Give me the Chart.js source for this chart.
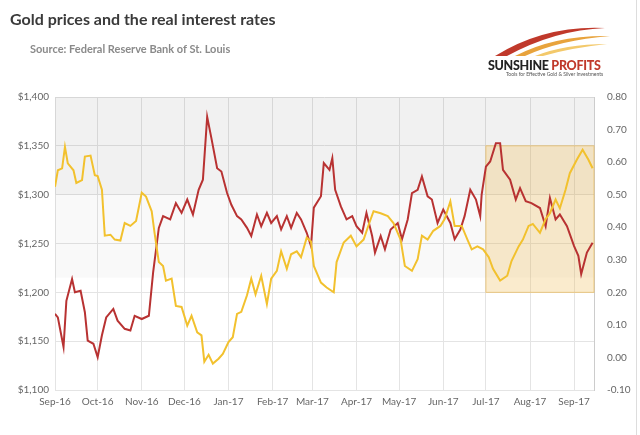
<!DOCTYPE html>
<html><head><meta charset="utf-8">
<script src="https://cdn.jsdelivr.net/npm/chart.js@4"></script>
<style>
body{margin:0;background:#fff;font-family:Lato,"Open Sans",sans-serif;}
#wrap{position:relative;width:640px;height:435px;}
#t{position:absolute;left:10px;top:9px;font-size:16px;font-weight:bold;color:#3a3a3a;}
#s{position:absolute;left:30px;top:42px;font-size:11px;font-weight:bold;color:#8a8a8a;}
#logo{position:absolute;left:488px;top:58px;font-size:12.5px;font-weight:900;color:#222;letter-spacing:-0.3px}
#logo span{color:#c0392b}
#tag{position:absolute;left:506px;top:71px;font-size:5px;color:#555}
#frame{position:absolute;right:3px;top:0;width:1px;height:435px;background:#ddd}
</style></head><body>
<div id="wrap"><canvas id="c" width="640" height="435"></canvas>
<div id="t">Gold prices and the real interest rates</div>
<div id="s">Source: Federal Reserve Bank of St. Louis</div>
<svg style="position:absolute;left:495px;top:20px" width="120" height="38"><path d="M0 36 Q50 5 110 8 Q60 10 12 36Z" fill="#c0392b"/><path d="M20 36 Q60 15 115 16 Q65 20 30 36Z" fill="#e8a33c"/><path d="M40 36 Q70 24 112 24 Q75 28 48 36Z" fill="#f3c96b"/></svg>
<div id="logo">SUNSHINE <span>PROFITS</span></div>
<div id="tag">Tools for Effective Gold &amp; Silver Investments</div>
<div id="frame"></div>
</div>
<script>
const monthDays=[0,30,61,91,122,153,181,212,242,273,303,334,365];
const monthLabels=["Sep-16","Oct-16","Nov-16","Dec-16","Jan-17","Feb-17","Mar-17","Apr-17","May-17","Jun-17","Jul-17","Aug-17","Sep-17"];
const goldDays=[0,2,5,7,9,13,15,19,21,25,28,30,33,35,39,42,46,49,53,57,61,64,68,70,73,76,78,82,85,89,93,96,100,103,105,108,111,115,118,122,125,128,131,135,138,141,145,149,152,156,159,163,166,170,173,177,180,182,187,191,196,198,203,208,212,217,221,224,229,234,238,243,246,251,255,258,262,266,271,274,278,281,286,290,293,297,301,305,308,313,318,321,326,329,333,336,341,345,348,352,355,359,362,367,371,375,378];
const goldPrice=[1308,1325,1327,1349,1332,1325,1312,1315,1339,1340,1320,1319,1305,1258,1259,1254,1253,1271,1268,1273,1302,1298,1283,1261,1231,1227,1212,1214,1186,1185,1166,1176,1159,1156,1129,1136,1127,1132,1137,1149,1154,1178,1180,1197,1214,1198,1217,1188,1214,1222,1242,1224,1239,1242,1236,1256,1252,1227,1210,1205,1200,1231,1251,1258,1247,1254,1271,1283,1281,1278,1271,1254,1227,1222,1234,1258,1254,1263,1268,1275,1293,1268,1268,1254,1244,1247,1244,1236,1224,1212,1217,1232,1247,1254,1268,1270,1261,1275,1281,1295,1286,1305,1322,1336,1346,1336,1327];
const rateDays=[0,2,6,8,12,14,18,21,23,27,30,33,36,41,44,49,53,56,61,66,69,73,76,81,85,89,93,97,101,104,107,110,114,117,121,124,128,131,135,138,142,145,149,152,156,159,163,166,170,173,177,180,182,187,189,193,195,197,201,205,209,212,216,219,223,225,229,232,236,241,244,248,251,255,258,262,265,269,273,278,281,285,288,292,296,299,300,303,306,310,313,315,320,324,327,331,335,341,345,348,352,355,360,365,368,370,374,378];
const realRate=[0.134,0.123,0.032,0.174,0.241,0.20,0.205,0.139,0.052,0.042,0.001,0.068,0.123,0.149,0.113,0.088,0.083,0.128,0.118,0.128,0.261,0.398,0.434,0.424,0.474,0.444,0.485,0.439,0.515,0.546,0.739,0.673,0.581,0.571,0.505,0.469,0.434,0.424,0.398,0.373,0.439,0.403,0.444,0.413,0.434,0.393,0.434,0.398,0.444,0.424,0.383,0.342,0.46,0.495,0.597,0.576,0.612,0.515,0.464,0.424,0.434,0.403,0.383,0.444,0.373,0.322,0.373,0.332,0.393,0.413,0.363,0.424,0.505,0.515,0.556,0.495,0.485,0.413,0.454,0.413,0.363,0.393,0.434,0.515,0.485,0.434,0.50,0.586,0.602,0.658,0.658,0.576,0.546,0.485,0.52,0.48,0.474,0.459,0.403,0.49,0.424,0.439,0.403,0.342,0.312,0.256,0.322,0.352];
const leftTicks=[1100,1150,1200,1250,1300,1350,1400];
const rightTicks=[-0.1,0,0.1,0.2,0.3,0.4,0.5,0.6,0.7,0.8];
const bands={darkFrom:1300,lightFrom:1215,boxStart:303,boxTop:1350,boxBottom:1200};

const bg={id:'bg',beforeDatasetsDraw(ch){const {ctx,chartArea:a,scales:{x,y}}=ch;ctx.save();
 ctx.fillStyle='rgba(0,0,0,0.055)';ctx.fillRect(a.left,a.top,a.width,y.getPixelForValue(bands.darkFrom)-a.top);
 ctx.fillStyle='rgba(0,0,0,0.025)';ctx.fillRect(a.left,y.getPixelForValue(bands.darkFrom),a.width,y.getPixelForValue(bands.lightFrom)-y.getPixelForValue(bands.darkFrom));
 const x0=x.getPixelForValue(bands.boxStart),y0=y.getPixelForValue(bands.boxTop),y1=y.getPixelForValue(bands.boxBottom);
 ctx.fillStyle='rgba(240,190,90,0.3)';ctx.fillRect(x0,y0,a.right-x0,y1-y0);
 ctx.strokeStyle='rgba(235,180,70,0.6)';ctx.lineWidth=1;ctx.strokeRect(x0,y0,a.right-x0,y1-y0);
 ctx.restore();}};
const tickFont={family:'Lato',size:10};
new Chart(document.getElementById('c'),{type:'line',
 data:{datasets:[
  {data:goldDays.map((d,i)=>({x:d,y:goldPrice[i]})),borderColor:'#f2c12e',borderWidth:2,pointRadius:0,tension:0,yAxisID:'y'},
  {data:rateDays.map((d,i)=>({x:d,y:realRate[i]})),borderColor:'#b83232',borderWidth:2,pointRadius:0,tension:0,yAxisID:'y2'}]},
 options:{responsive:false,animation:false,events:[],layout:{padding:{top:97,left:0,right:0,bottom:0}},
  plugins:{legend:{display:false},tooltip:{enabled:false}},
  scales:{
   x:{type:'linear',min:0,max:379,afterBuildTicks(s){s.ticks=monthDays.map(v=>({value:v}));},
      afterFit(s){s.height=45;},
      ticks:{callback:v=>monthLabels[monthDays.indexOf(v)],color:'#666',font:tickFont,maxRotation:0,autoSkip:false,padding:6},
      grid:{color:'#e4e4e4',drawTicks:false},border:{display:false}},
   y:{position:'left',min:1100,max:1400,afterBuildTicks(s){s.ticks=leftTicks.map(v=>({value:v}));},
      afterFit(s){s.width=55;},
      ticks:{callback:v=>'$'+v.toLocaleString('en-US'),color:'#666',font:tickFont,padding:6},
      grid:{color:'#e4e4e4',drawTicks:false},border:{display:false}},
   y2:{position:'right',min:-0.1,max:0.8,afterBuildTicks(s){s.ticks=rightTicks.map(v=>({value:v}));},
      afterFit(s){s.width=46;},
      ticks:{callback:v=>(v<0?'-':'')+Math.abs(v).toFixed(2).replace(/^-/,''),color:'#666',font:tickFont,padding:5},
      grid:{display:false,drawTicks:true},border:{color:'#ccc'}}
  }},plugins:[bg]});
</script></body></html>
